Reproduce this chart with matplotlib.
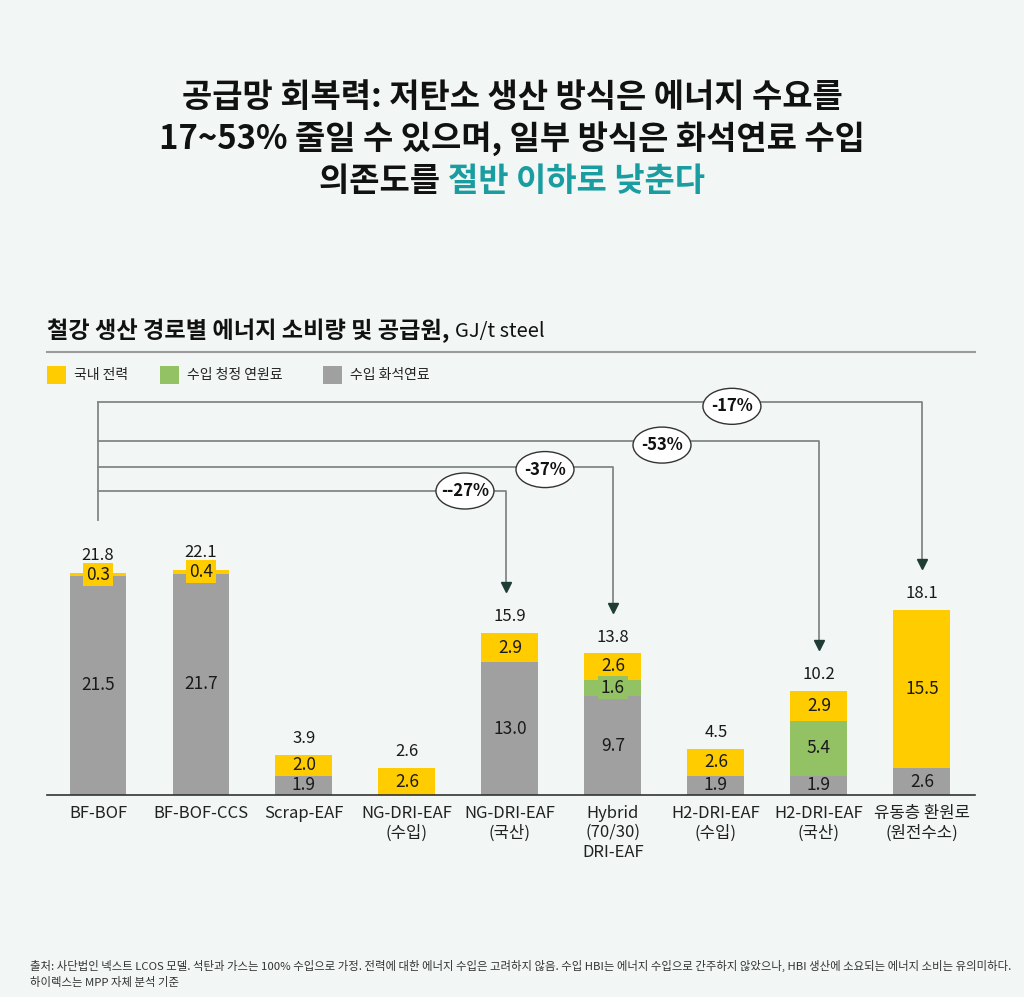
import numpy as np
import matplotlib
matplotlib.use("Agg")
import matplotlib.pyplot as plt
from matplotlib.patches import Ellipse, Rectangle

plt.rcParams['font.family'] = ['Noto Sans CJK KR', 'DejaVu Sans']

# --------------------------------------------------
# Data
# --------------------------------------------------
categories = ['BF-BOF', 'BF-BOF-CCS', 'Scrap-EAF', 'NG-DRI-EAF\n(수입)', 'NG-DRI-EAF\n(국산)',
              'Hybrid\n(70/30)\nDRI-EAF', 'H2-DRI-EAF\n(수입)', 'H2-DRI-EAF\n(국산)', '유동층 환원로\n(원전수소)']
fossil = [21.5, 21.7, 1.9, 0.0, 13.0, 9.7, 1.9, 1.9, 2.6]
clean = [0.0, 0.0, 0.0, 0.0, 0.0, 1.6, 0.0, 5.4, 0.0]
power = [0.3, 0.4, 2.0, 2.6, 2.9, 2.6, 2.6, 2.9, 15.5]
totals = [21.8, 22.1, 3.9, 2.6, 15.9, 13.8, 4.5, 10.2, 18.1]

series_names = ['국내 전력', '수입 청정 연원료', '수입 화석연료']

# reduction arrows: target bar index, label
arrow_targets = [8, 7, 5, 4]
arrow_labels = ['-17%', '-53%', '-37%', '--27%']

# --------------------------------------------------
# Styles
# --------------------------------------------------
BG = '#F2F6F5'
YELLOW = '#FFCC00'
GREEN = '#92C264'
GRAY = '#A0A0A0'
TEAL = '#1A9DA0'
LINE = '#7F8985'
HEAD = '#1F3D34'

W, H = 1024, 997
fig = plt.figure(figsize=(W / 100, H / 100), dpi=100, facecolor=BG)

ax = fig.add_axes([47 / W, 202 / H, 928 / W, 405 / H])
ax.set_facecolor(BG)
ax.set_xlim(-0.495, 8.515)
ax.set_ylim(0, 39.7)
for s in ['top', 'right', 'left']:
    ax.spines[s].set_visible(False)
ax.spines['bottom'].set_color('#333333')
ax.spines['bottom'].set_linewidth(1.2)
ax.set_yticks([])

x = np.arange(len(categories))
bw = 0.553
fossil = np.array(fossil)
clean = np.array(clean)
power = np.array(power)

ax.bar(x, fossil, bw, color=GRAY, zorder=2)
ax.bar(x, clean, bw, bottom=fossil, color=GREEN, zorder=2)
ax.bar(x, power, bw, bottom=fossil + clean, color=YELLOW, zorder=2)

ax.set_xticks(x)
ax.set_xticklabels(categories, fontsize=12, color='#222222', linespacing=1.2, va='top')
ax.tick_params(axis='x', length=0, pad=7)

# segment labels
for i in range(len(categories)):
    bottoms = [0, fossil[i], fossil[i] + clean[i]]
    vals = [fossil[i], clean[i], power[i]]
    cols = [GRAY, GREEN, YELLOW]
    for b, v, c in zip(bottoms, vals, cols):
        if v <= 0:
            continue
        yc = b + v / 2
        bbox = None
        if v < 1.8:
            bbox = dict(boxstyle='square,pad=0.15', fc=c, ec='none')
        if v < 1.0:
            yc = b + v - 0.2
        ax.text(i, yc, f'{v:.1f}', ha='center', va='center', fontsize=12.5,
                color='#1a1a1a', bbox=bbox, zorder=4)
    ax.text(i, totals[i] + 0.8, f'{totals[i]:.1f}', ha='center', va='bottom',
            fontsize=12, color='#1a1a1a', zorder=4)

# --------------------------------------------------
# Reduction arrows
# --------------------------------------------------
line_ys = [38.5, 34.7, 32.2, 29.8]
ell_pos = [(6.155, 38.1), (5.476, 34.3), (4.34, 31.9), (3.563, 29.8)]
ax.plot([0, 0], [27.0, line_ys[0]], color=LINE, lw=1.3, zorder=1, clip_on=False)
for tgt, lab, ly, (ex, ey) in zip(arrow_targets, arrow_labels, line_ys, ell_pos):
    tx = tgt - 0.04 if tgt == 4 else tgt
    tip = totals[tgt] + 4.0
    ax.plot([0, tx, tx], [ly, ly, tip + 0.5], color=LINE, lw=1.3, zorder=1, clip_on=False)
    ax.plot([tx], [tip + 0.5], marker='v', ms=6.5, color=HEAD, mec=HEAD, zorder=3, clip_on=False)
    ax.add_patch(Ellipse((ex, ey), 58 / 103, 36 / 10.2, fc='white', ec='#333333',
                         lw=1.0, zorder=5, clip_on=False))
    ax.text(ex, ey, lab, ha='center', va='center', fontsize=12, fontweight='bold',
            color='#111111', zorder=6)

# --------------------------------------------------
# Title
# --------------------------------------------------
renderer = fig.canvas.get_renderer()
TS = 23.7
fig.text(0.5, 1 - 98 / H, '공급망 회복력: 저탄소 생산 방식은 에너지 수요를', ha='center', va='center',
         fontsize=TS, fontweight='bold', color='#111111')
fig.text(0.5, 1 - 139 / H, '17~53% 줄일 수 있으며, 일부 방식은 화석연료 수입', ha='center', va='center',
         fontsize=TS, fontweight='bold', color='#111111')
t1 = fig.text(0, 1 - 181 / H, '의존도를 ', ha='left', va='center', fontsize=TS,
              fontweight='bold', color='#111111')
t2 = fig.text(0, 1 - 181 / H, '절반 이하로 낮춘다', ha='left', va='center', fontsize=TS,
              fontweight='bold', color=TEAL)
w1 = t1.get_window_extent(renderer).width / W
w2 = t2.get_window_extent(renderer).width / W
x0 = 0.5 - (w1 + w2) / 2
t1.set_x(x0)
t2.set_x(x0 + w1)

# subtitle
s1 = fig.text(47 / W, 1 - 331 / H, '철강 생산 경로별 에너지 소비량 및 공급원, ', ha='left', va='center',
              fontsize=16.7, fontweight='bold', color='#111111')
ws = s1.get_window_extent(renderer).width / W
fig.text(47 / W + ws, 1 - 331 / H, 'GJ/t steel', ha='left', va='center', fontsize=14.5,
         color='#111111')
fig.add_artist(plt.Line2D([47 / W, 975 / W], [1 - 352 / H, 1 - 352 / H], color='#9A9A9A', lw=1.5))

# legend (placed by hand)
leg_x = [47, 160, 323]
for lx, c, name in zip(leg_x, [YELLOW, GREEN, GRAY], series_names):
    fig.add_artist(Rectangle((lx / W, 1 - 384 / H), 19 / W, 18 / H, fc=c, ec='none',
                             transform=fig.transFigure))
    fig.text((lx + 27) / W, 1 - 375 / H, name, ha='left', va='center', fontsize=10,
             color='#222222')

# footer
fig.text(30 / W, 1 - 966 / H, '출처: 사단법인 넥스트 LCOS 모델. 석탄과 가스는 100% 수입으로 가정. 전력에 대한 에너지 수입은 고려하지 않음. '
         '수입 HBI는 에너지 수입으로 간주하지 않았으나, HBI 생산에 소요되는 에너지 소비는 유의미하다.',
         ha='left', va='center', fontsize=8.2, color='#333333')
fig.text(30 / W, 1 - 982 / H, '하이렉스는 MPP 자체 분석 기준', ha='left', va='center',
         fontsize=8.2, color='#333333')

fig.savefig('out.png', dpi=100, facecolor=BG)
